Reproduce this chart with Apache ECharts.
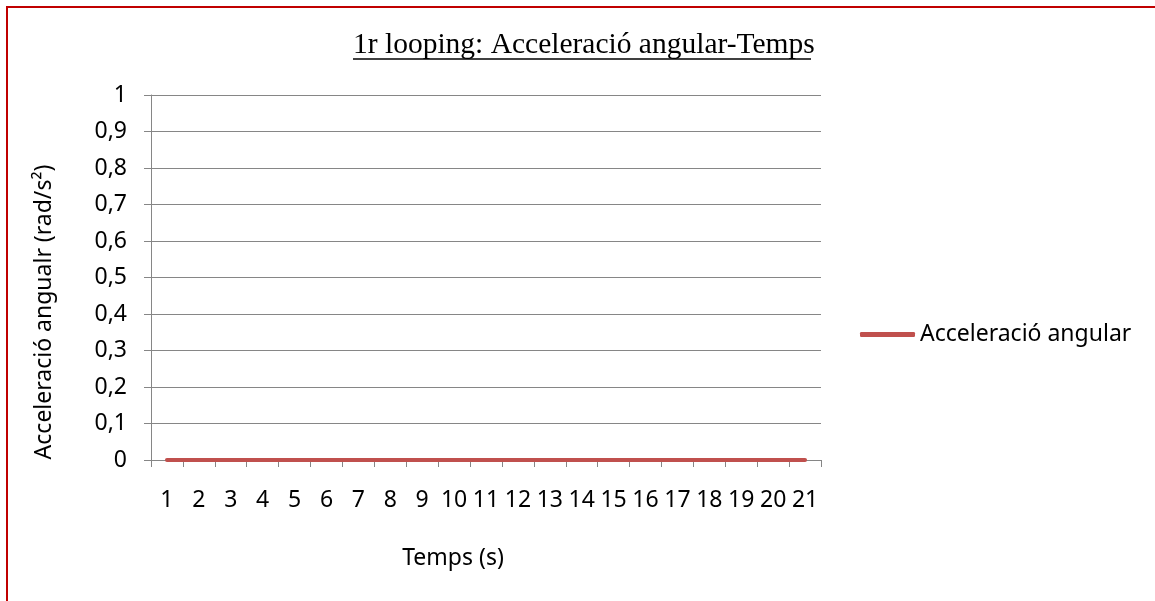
<!DOCTYPE html>
<html>
<head>
<meta charset="utf-8">
<script src="https://cdn.jsdelivr.net/npm/echarts@6/dist/echarts.min.js"></script>
<style>
html,body{margin:0;padding:0;background:#fff;}
#chart{width:1155px;height:601px;}
</style>
</head>
<body>
<div id="chart"></div>
<script>
const titleText = '1r looping: Acceleració angular-Temps';
const seriesName = 'Acceleració angular';
const xAxisName = 'Temps (s)';
const yAxisName = 'Acceleració angualr (rad/s²)';
const categories = ['1','2','3','4','5','6','7','8','9','10','11','12','13','14','15','16','17','18','19','20','21'];
const values = [0,0,0,0,0,0,0,0,0,0,0,0,0,0,0,0,0,0,0,0,0];

const font = '"Noto Sans", "Open Sans", sans-serif';
const fs = 23;
const chart = echarts.init(document.getElementById('chart'), null, {renderer: 'canvas'});
chart.setOption({
  animation: false,
  backgroundColor: '#ffffff',
  title: {
    text: titleText,
    left: 353,
    top: 30,
    padding: 0,
    textStyle: {fontFamily: '"Liberation Serif", "Times New Roman", serif', fontWeight: 'normal', fontSize: 29.5, color: '#000'}
  },
  graphic: [
    {type: 'rect', z: -10, shape: {x: 7, y: 7, width: 1300, height: 800}, style: {fill: 'none', stroke: '#C00000', lineWidth: 2}},
    {type: 'line', shape: {x1: 353, y1: 59, x2: 811, y2: 59}, style: {stroke: '#000', lineWidth: 1.5}}
  ],
  legend: {
    data: [{name: seriesName, icon: 'roundRect'}],
    left: 860,
    top: 323,
    padding: 0,
    itemWidth: 55,
    itemHeight: 5,
    textStyle: {fontFamily: font, fontSize: fs, color: '#000'}
  },
  grid: {left: 151, right: 334, top: 95, bottom: 141, containLabel: false},
  xAxis: {
    type: 'category',
    data: categories,
    boundaryGap: true,
    name: xAxisName,
    nameLocation: 'middle',
    nameGap: 87,
    nameTextStyle: {fontFamily: font, fontSize: fs, color: '#000', padding: [0, 66, 0, 0]},
    axisLine: {lineStyle: {color: '#868686', width: 1}},
    axisTick: {show: true, alignWithLabel: false, length: 7, lineStyle: {color: '#868686'}},
    axisLabel: {fontFamily: font, fontSize: fs, color: '#000', margin: 29, interval: 0},
    splitLine: {show: false}
  },
  yAxis: {
    type: 'value',
    min: 0,
    max: 1,
    interval: 0.1,
    name: yAxisName,
    nameLocation: 'middle',
    nameGap: 95,
    nameTextStyle: {fontFamily: font, fontSize: fs, color: '#000', padding: [0, 69, 0, 0]},
    axisLine: {show: true, lineStyle: {color: '#868686', width: 1}},
    axisTick: {show: true, length: 7, lineStyle: {color: '#868686'}},
    axisLabel: {fontFamily: font, fontSize: fs, color: '#000', margin: 24,
      formatter: v => String(Math.round(v * 10) / 10).replace('.', ',')},
    splitLine: {show: true, lineStyle: {color: '#868686', width: 1}}
  },
  series: [{
    name: seriesName,
    type: 'line',
    data: values,
    symbol: 'none',
    lineStyle: {color: '#C0504D', width: 4, cap: 'round'},
    itemStyle: {color: '#C0504D'}
  }]
});
</script>
</body>
</html>
